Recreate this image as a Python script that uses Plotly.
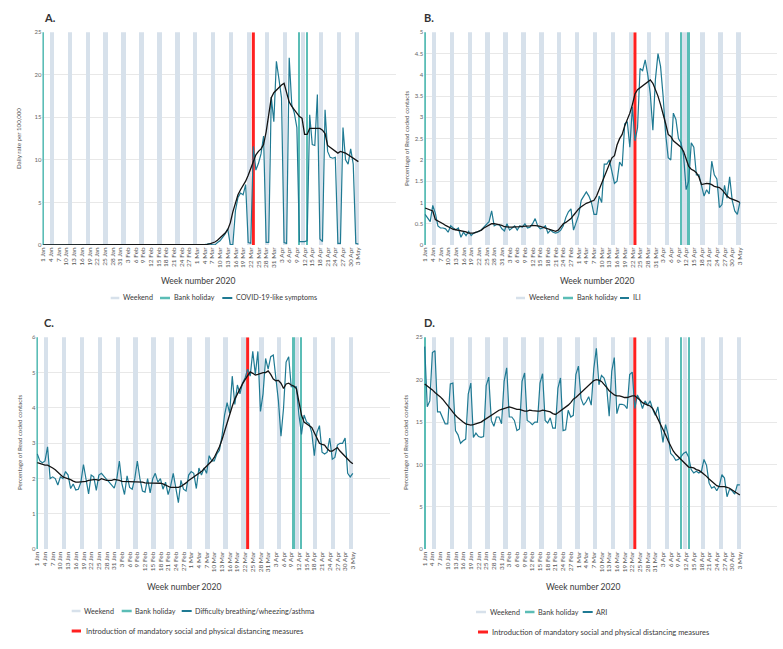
import pandas as pd
import plotly.graph_objects as go
from plotly.subplots import make_subplots

W, H = 783, 649
DAY = 86400000

# calendar
dates = pd.date_range("2020-01-01", "2020-05-03", freq="D")
bank_holidays = pd.to_datetime(["2020-01-01", "2020-04-10", "2020-04-13"])
lockdown = pd.Timestamp("2020-03-23")
saturdays = dates[dates.dayofweek == 5]  # weekend band = Sat + Sun
tick_dates = dates[::3]

# A. COVID-19-like symptoms, daily rate per 100,000
covid_daily = [
    0, 0, 0, 0, 0, 0, 0, 0, 0, 0,
    0, 0, 0, 0, 0, 0, 0, 0, 0, 0,
    0, 0, 0, 0, 0, 0, 0, 0, 0, 0,
    0, 0, 0, 0, 0, 0, 0, 0, 0, 0,
    0, 0, 0, 0, 0, 0, 0, 0, 0, 0,
    0, 0, 0, 0, 0, 0, 0, 0, 0, 0,
    0, 0.02, 0.04, 0.06, 0.1, 0.15, 0.02, 0.02, 0.3, 0.5,
    0.9, 1.3, 1.9, 0.05, 0.05, 4.0, 5.6, 6.1, 5.9, 7.1,
    0.3, 0.2, 11.6, 8.8, 9.6, 10.7, 12.8, 0.3, 0.3, 17.4,
    14.5, 21.6, 19.5, 17.3, 0.3, 0.2, 22.0, 16.5, 15.5, 13.8,
    0.4, 0.4, 0.4, 0.5, 15.3, 11.8, 11.7, 17.7, 0.7, 0.4,
    15.9, 11.0, 10.3, 10.2, 10.3, 0.2, 0.2, 13.8, 10.0, 9.5,
    11.3, 9.5, 0.2, 0.1,
]
covid_avg = [
    0, 0, 0, 0, 0, 0, 0, 0, 0, 0,
    0, 0, 0, 0, 0, 0, 0, 0, 0, 0,
    0, 0, 0, 0, 0, 0, 0, 0, 0, 0,
    0, 0, 0, 0, 0, 0, 0, 0, 0, 0,
    0, 0, 0, 0, 0, 0, 0, 0, 0, 0,
    0, 0, 0, 0, 0, 0, 0, 0, 0, 0,
    0, 0, 0.02, 0.05, 0.08, 0.12, 0.2, 0.35, 0.55, 0.8,
    1.1, 1.4, 1.8, 2.6, 3.9, 5.0, 5.9, 6.5, 7.0, 7.5,
    8.2, 9.0, 9.8, 10.6, 11.0, 11.3, 11.8, 13.3, 15.3, 17.3,
    17.9, 18.2, 18.6, 18.8, 19.0, 17.9, 16.8, 16.3, 15.9, 15.4,
    15.1, 14.9, 13.0, 13.0, 13.7, 13.7, 13.7, 13.7, 13.7, 13.5,
    13.1, 11.7, 11.5, 11.3, 11.0, 10.8, 11.0, 10.9, 10.8, 10.6,
    10.4, 10.3, 10.1, 9.8,
]

# B. ILI, % of Read coded contacts
ili_daily = [
    0.72, 0.62, 0.55, 0.93, 0.75, 0.45, 0.4, 0.4, 0.38, 0.3,
    0.45, 0.4, 0.36, 0.4, 0.18, 0.3, 0.22, 0.32, 0.22, 0.28,
    0.3, 0.32, 0.36, 0.42, 0.5, 0.55, 0.8, 0.45, 0.48, 0.48,
    0.38, 0.33, 0.5, 0.35, 0.4, 0.45, 0.35, 0.45, 0.42, 0.5,
    0.4, 0.42, 0.5, 0.62, 0.45, 0.38, 0.4, 0.45, 0.28, 0.35,
    0.3, 0.28, 0.3, 0.35, 0.45, 0.65, 0.78, 0.85, 0.35, 0.55,
    0.7, 1.05, 1.15, 1.25, 1.15, 1.0, 0.72, 0.72, 1.15, 1.0,
    1.9, 1.9, 2.0, 1.75, 1.45, 1.5, 1.95, 1.85, 2.85, 2.9,
    2.3, 3.25, 2.45, 2.75, 4.15, 4.1, 4.35, 4.0, 3.55, 2.7,
    3.9, 4.5, 4.2, 3.5, 2.6, 2.05, 2.0, 3.1, 2.95, 2.5,
    2.4, 2.1, 1.3, 1.5, 2.4, 2.3, 1.65, 1.65, 1.4, 1.15,
    1.3, 1.2, 1.97, 1.65, 1.55, 0.88, 0.95, 1.4, 1.1, 1.6,
    1.05, 0.8, 0.72, 1.0,
]
ili_avg = [
    0.87, 0.85, 0.83, 0.8, 0.6, 0.57, 0.54, 0.5, 0.46, 0.42,
    0.4, 0.37, 0.36, 0.35, 0.34, 0.33, 0.31, 0.28, 0.28, 0.28,
    0.3, 0.32, 0.35, 0.4, 0.43, 0.47, 0.5, 0.5, 0.49, 0.48,
    0.46, 0.43, 0.42, 0.42, 0.42, 0.42, 0.43, 0.43, 0.44, 0.44,
    0.45, 0.45, 0.46, 0.46, 0.45, 0.44, 0.42, 0.4, 0.37, 0.35,
    0.34, 0.32, 0.35, 0.42, 0.5, 0.53, 0.57, 0.62, 0.7, 0.78,
    0.85, 0.9, 0.95, 0.98, 1.0, 1.03, 1.05, 1.15, 1.3, 1.45,
    1.6, 1.75, 1.9, 2.05, 2.1, 2.35, 2.5, 2.6, 2.8, 2.95,
    3.1, 3.3, 3.55, 3.65, 3.7, 3.75, 3.8, 3.85, 3.88, 3.8,
    3.65, 3.5, 3.3, 3.1, 2.85, 2.6, 2.55, 2.45, 2.4, 2.35,
    2.3, 2.2, 2.0, 1.85, 1.78, 1.75, 1.7, 1.6, 1.42, 1.43,
    1.45, 1.44, 1.42, 1.38, 1.37, 1.35, 1.3, 1.22, 1.15, 1.1,
    1.08, 1.05, 1.03, 1.0,
]

# C. Difficulty breathing/wheezing/asthma
breath_daily = [
    2.7, 2.5, 2.45, 2.5, 2.9, 2.0, 2.05, 2.0, 1.82, 2.05,
    2.0, 2.2, 2.1, 1.72, 1.85, 1.68, 1.7, 1.9, 2.4, 2.0,
    1.57, 2.1, 2.05, 1.67, 2.1, 2.15, 2.05, 1.98, 1.9, 1.8,
    1.73, 2.0, 2.5, 1.85, 1.55, 2.08, 1.75, 1.7, 2.0, 2.5,
    2.0, 1.65, 1.62, 2.0, 1.6, 2.0, 2.15, 1.9, 2.0, 1.7,
    1.9, 1.55, 1.8, 2.15, 1.7, 1.32, 1.95, 1.7, 1.65, 2.1,
    2.2, 2.15, 1.72, 2.3, 2.1, 2.3, 2.15, 2.65, 2.5, 2.5,
    2.7, 2.8, 3.2, 3.8, 4.15, 3.85, 4.9, 4.1, 4.65, 4.4,
    4.7, 4.85, 5.1, 4.9, 5.6, 4.95, 5.6, 3.9, 4.4, 5.4,
    5.1, 5.45, 5.5, 4.8, 4.2, 3.2, 4.0, 5.3, 5.45, 4.6,
    4.6, 4.6, 3.8, 3.25, 3.8, 3.6, 3.55, 3.3, 2.65, 3.3,
    3.5, 2.75, 2.7, 2.75, 3.15, 2.55, 2.6, 2.95, 3.0, 3.0,
    3.15, 2.15, 2.05, 2.15,
]
breath_avg = [
    2.45, 2.42, 2.4, 2.38, 2.38, 2.35, 2.3, 2.25, 2.18, 2.1,
    2.05, 2.02, 2.0, 1.97, 1.93, 1.9, 1.9, 1.9, 1.92, 1.92,
    1.95, 1.97, 1.97, 1.97, 1.95, 2.0, 1.97, 1.95, 1.95, 1.95,
    1.98, 1.97, 1.95, 1.92, 1.92, 1.92, 1.92, 1.92, 1.92, 1.92,
    1.9, 1.9, 1.88, 1.88, 1.87, 1.87, 1.88, 1.88, 1.87, 1.85,
    1.82, 1.78, 1.75, 1.75, 1.75, 1.75, 1.78, 1.82, 1.88, 1.95,
    2.0, 2.05, 2.1, 2.15, 2.2, 2.28, 2.35, 2.42, 2.5, 2.6,
    2.75, 2.9, 3.1, 3.35, 3.6, 3.85, 4.05, 4.25, 4.4, 4.55,
    4.68, 4.8, 4.92, 5.02, 4.98, 4.93, 4.95, 4.98, 5.0, 5.0,
    5.05, 4.95, 4.82, 4.77, 4.78, 4.7, 4.55, 4.68, 4.7, 4.65,
    4.62, 4.55, 4.2, 3.8, 3.6, 3.55, 3.52, 3.45, 3.3, 3.15,
    3.0, 2.97, 2.95, 2.85, 2.78, 2.78, 2.82, 2.88, 2.78, 2.7,
    2.62, 2.55, 2.48, 2.42,
]

# D. ARI
ari_daily = [
    23.9, 16.8, 17.5, 23.2, 23.4, 16.2, 16.2, 15.5, 14.8, 14.8,
    19.5, 19.6, 14.0, 13.5, 12.5, 12.8, 13.0, 18.3, 19.6, 13.2,
    13.7, 13.3, 13.2, 13.3, 19.3, 20.3, 15.2, 14.5, 15.6, 15.6,
    14.8, 19.8, 21.4, 15.6, 15.6, 15.2, 14.0, 14.2, 19.8, 20.8,
    15.2, 15.0, 14.7, 15.0, 15.0, 19.6, 20.7, 15.2, 14.9, 15.5,
    14.3, 14.3, 19.0, 20.2, 14.0, 14.1, 16.4, 15.6, 15.8, 20.6,
    21.6, 17.8, 17.0, 17.4, 18.0, 17.0, 21.3, 23.7, 19.4, 20.5,
    20.2, 19.2, 15.7, 21.0, 22.6, 16.0, 17.1, 17.1, 17.0, 16.6,
    20.6, 20.9, 16.6, 18.2, 17.6, 16.6, 17.5, 17.0, 17.5, 16.5,
    15.8, 16.8, 14.5, 12.6, 14.7, 13.5, 11.3, 11.0, 10.5, 10.6,
    10.9, 11.3, 11.5, 10.9, 9.4, 9.0, 9.2, 9.0, 9.2, 10.6,
    9.9, 7.8, 7.2, 7.4, 6.9, 7.5, 8.8, 8.4, 6.2, 7.1,
    6.9, 6.5, 7.6, 7.6,
]
ari_avg = [
    19.5, 19.3, 19.0, 18.8, 18.5, 18.3, 18.0, 17.7, 17.3, 17.0,
    16.6, 16.2, 15.8, 15.5, 15.2, 15.0, 14.8, 14.7, 14.65, 14.7,
    14.8, 14.9, 15.0, 15.2, 15.4, 15.6, 15.8, 16.1, 16.3, 16.4,
    16.5, 16.6, 16.7, 16.8, 16.7, 16.6, 16.5, 16.5, 16.4, 16.3,
    16.3, 16.4, 16.35, 16.3, 16.3, 16.3, 16.4, 16.35, 16.3, 16.2,
    16.0, 15.9, 16.1, 16.3, 16.5, 16.7, 17.0, 17.3, 17.7, 17.9,
    18.2, 18.4, 18.7, 19.0, 19.4, 19.7, 19.9, 20.0, 19.95, 19.8,
    19.5, 19.1, 18.7, 18.4, 18.2, 18.1, 18.1, 18.0, 17.9, 17.9,
    18.0, 18.1, 18.1, 17.9, 17.6, 17.3, 17.1, 17.0, 16.9, 16.6,
    16.0, 15.4, 14.8, 14.1, 13.5, 12.8, 12.2, 11.6, 11.2, 10.9,
    10.7, 10.4, 10.0, 9.7, 9.65, 9.6, 9.4, 9.3, 9.1, 8.9,
    8.6, 8.3, 8.0, 7.8, 7.5, 7.4, 7.4, 7.4, 7.3, 7.2,
    7.0, 6.8, 6.6, 6.4,
]

WEEKEND = "#d7e1eb"
HOLIDAY = "#5bbdb6"
DAILY = "#1f7a93"
AVG = "#141414"
RED = "#ff2020"
GRID = "#e8e8e8"
TXT = "#3a3a3a"
FONT = "Lato"


def px(x, y):
    return x / W, 1 - y / H


panels = [
    # row, col, letter, y title, series name, daily, avg, ymax, dtick, red legend
    (1, 1, "A.", "Daily rate per 100,000", "COVID-19-like symptoms", covid_daily, covid_avg, 25, 5, False),
    (1, 2, "B.", "Percentage of Read coded contacts", "ILI", ili_daily, ili_avg, 5, 0.5, False),
    (2, 1, "C.", "Percentage of Read coded contacts", "Difficulty breathing/wheezing/asthma",
     breath_daily, breath_avg, 6, 1, True),
    (2, 2, "D.", "Percentage of Read coded contacts", "ARI", ari_daily, ari_avg, 25, 5, True),
]

# plot-area boxes in pixels: (x0, x1), (ytop, ybottom)
boxes = [((42.4, 395.5), (32.3, 245)), ((424.2, 777), (32.3, 245)),
         ((36.4, 390), (337.3, 549.3)), ((423.8, 777), (337.3, 549.3))]
# layout of panel text: title xy, y-title xy, x-title xy, legend row y, swatch/text x
text_pos = [
    dict(title=(42, 18), ytitle=(18.5, 138.5), xtitle=(198, 281), leg_y=298,
         items=[(110.7, 119.3, 120.5), (160, 170, 171.5), (222.3, 232.3, 233.5)], red=None),
    dict(title=(422, 18), ytitle=(406.5, 138.5), xtitle=(597, 281), leg_y=298,
         items=[(516, 525, 526.5), (563, 573, 574.5), (620, 629, 630.5)], red=None),
    dict(title=(42, 323), ytitle=(19, 443), xtitle=(184, 587), leg_y=611,
         items=[(71.7, 80.5, 82), (121.7, 131.7, 133), (181.7, 191.7, 193)], red=(71.7, 81, 83.5, 631)),
    dict(title=(422, 323), ytitle=(405, 443), xtitle=(583, 587), leg_y=612,
         items=[(476, 486, 487.5), (525, 534.5, 536), (582.7, 592.7, 594)], red=(478, 488, 490, 632)),
]

x_start = dates[0] - pd.Timedelta(hours=8.4)
x_end = dates[0] + pd.Timedelta(days=137.5)

fig = make_subplots(rows=2, cols=2)
annotations = []
shapes = []

for i, (row, col, letter, ytitle, name, daily, avg, ymax, dtick, red_leg) in enumerate(panels):
    n = i + 1
    fig.add_trace(go.Bar(x=saturdays + pd.Timedelta(hours=12), y=[ymax] * len(saturdays),
                         width=1.7 * DAY, marker=dict(color=WEEKEND, line=dict(width=0)),
                         showlegend=False, hoverinfo="skip"), row=row, col=col)
    fig.add_trace(go.Bar(x=bank_holidays, y=[ymax] * len(bank_holidays),
                         width=0.9 * DAY, marker=dict(color=HOLIDAY, line=dict(width=0)),
                         showlegend=False, hoverinfo="skip"), row=row, col=col)
    fig.add_trace(go.Scatter(x=[lockdown, lockdown], y=[0, ymax], mode="lines",
                             line=dict(color=RED, width=3), showlegend=False),
                  row=row, col=col)
    fig.add_trace(go.Scatter(x=dates, y=daily, mode="lines", line=dict(color=DAILY, width=1.2),
                             showlegend=False, name=name), row=row, col=col)
    fig.add_trace(go.Scatter(x=dates, y=avg, mode="lines", line=dict(color=AVG, width=1.3),
                             showlegend=False), row=row, col=col)

    (x0, x1), (yt, yb) = boxes[i]
    xs = "" if n == 1 else str(n)
    fig.layout["xaxis" + xs].update(
        domain=[x0 / W, x1 / W], type="date", range=[x_start, x_end], automargin=False,
        tickvals=tick_dates, tickformat="%-d %b", tickangle=-90, ticks="",
        tickfont=dict(size=6.5, color="#555", family=FONT), showgrid=False,
        showline=False, zeroline=False)
    fig.layout["yaxis" + xs].update(
        domain=[1 - yb / H, 1 - yt / H], range=[0, ymax], dtick=dtick, ticks="", automargin=False,
        tickfont=dict(size=6, color="#666", family=FONT), gridcolor=GRID, gridwidth=1,
        showline=False, zeroline=False)

    tp = text_pos[i]
    ax, ay = px(*tp["title"])
    annotations.append(dict(text="<b>%s</b>" % letter, x=ax, y=ay, xref="paper", yref="paper",
                            xanchor="left", yanchor="middle", showarrow=False,
                            font=dict(size=11, color="#333", family=FONT)))
    ax, ay = px(*tp["ytitle"])
    annotations.append(dict(text=ytitle, x=ax, y=ay, xref="paper", yref="paper", textangle=-90,
                            xanchor="center", yanchor="middle", showarrow=False,
                            font=dict(size=6.2, color="#555", family=FONT)))
    ax, ay = px(*tp["xtitle"])
    annotations.append(dict(text="Week number 2020", x=ax, y=ay, xref="paper", yref="paper",
                            xanchor="center", yanchor="middle", showarrow=False,
                            font=dict(size=8.5, color=TXT, family=FONT)))

    # legend drawn by hand: short line swatch + label
    entries = [("Weekend", WEEKEND, 2.5), ("Bank holiday", HOLIDAY, 2.5), (name, DAILY, 2)]
    ly = tp["leg_y"]
    for (sx0, sx1, tx), (label, color, lw) in zip(tp["items"], entries):
        shapes.append(dict(type="line", xref="paper", yref="paper",
                           x0=sx0 / W, x1=sx1 / W, y0=1 - ly / H, y1=1 - ly / H,
                           line=dict(color=color, width=lw)))
        annotations.append(dict(text=label, x=tx / W, y=1 - ly / H, xref="paper", yref="paper",
                                xanchor="left", yanchor="middle", showarrow=False,
                                font=dict(size=7.2, color=TXT, family=FONT)))
    if red_leg:
        sx0, sx1, tx, ry = tp["red"]
        shapes.append(dict(type="line", xref="paper", yref="paper",
                           x0=sx0 / W, x1=sx1 / W, y0=1 - ry / H, y1=1 - ry / H,
                           line=dict(color=RED, width=3)))
        annotations.append(dict(text="Introduction of mandatory social and physical distancing measures",
                                x=tx / W, y=1 - ry / H, xref="paper", yref="paper",
                                xanchor="left", yanchor="middle", showarrow=False,
                                font=dict(size=7.5, color=TXT, family=FONT)))

fig.update_layout(
    width=W, height=H, margin=dict(l=0, r=0, t=0, b=0, autoexpand=False),
    paper_bgcolor="white", plot_bgcolor="white", barmode="overlay", bargap=0,
    font=dict(family=FONT, color=TXT), showlegend=False,
    annotations=annotations, shapes=shapes,
)

# the page body has an 8px default margin; drop it so the figure sits at (0, 0)
fig.write_html("out.html", config={"displayModeBar": False},
               post_script="document.body.style.margin = '0px';")
